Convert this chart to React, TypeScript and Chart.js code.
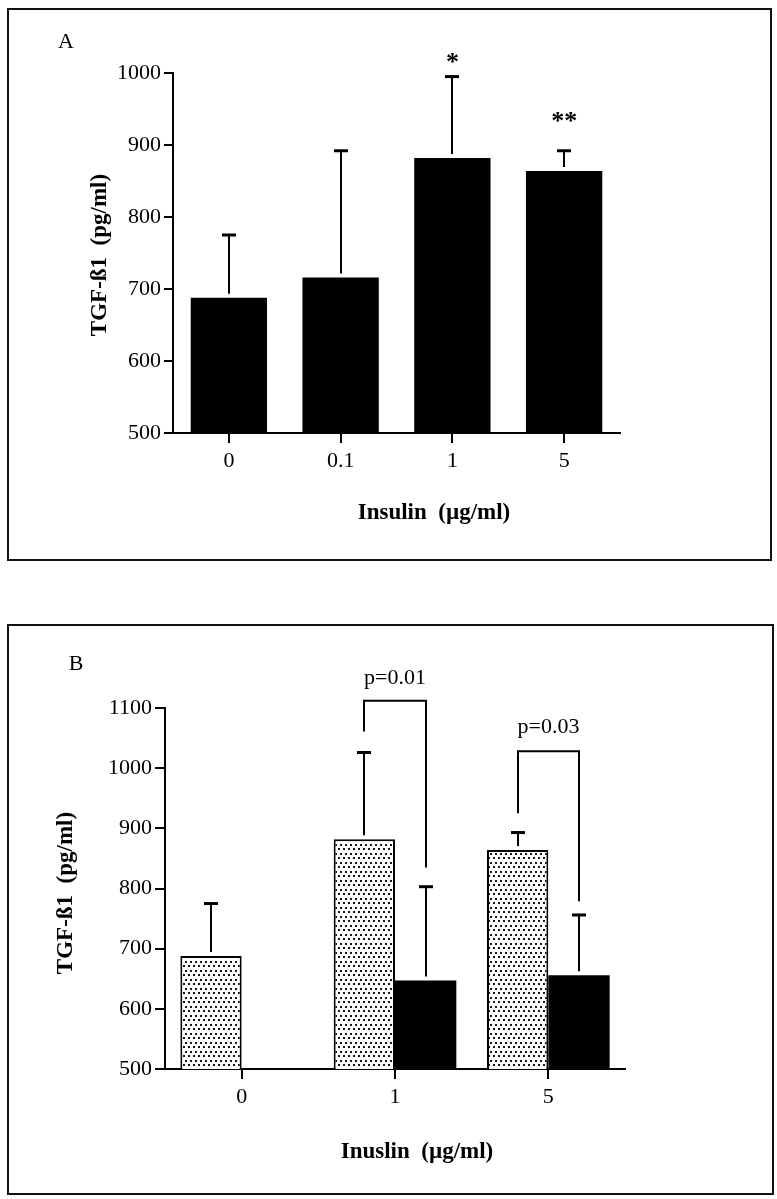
import React, { useEffect, useRef } from 'react';
import { Chart, registerables } from 'chart.js';

Chart.register(...registerables);

const FONT = '"Liberation Serif", "Times New Roman", serif';

// ---------- Panel A data ----------
const catsA = ['0', '0.1', '1', '5'];
const meanA = [688, 716, 882, 864];
const errA = [775, 892, 995, 892];
const sigTextA = ['', '', '*', '**'];
const sigYA: (number | null)[] = [null, null, 1004, 922];
const ticksA = [500, 600, 700, 800, 900, 1000];

// ---------- Panel B data ----------
const catsB = ['0', '1', '5'];
const meanB0: (number | null)[] = [688, 882, 864]; // dotted bars
const errB0: (number | null)[] = [775, 1026, 893];
const meanB1: (number | null)[] = [null, 647, 656]; // black bars
const errB1: (number | null)[] = [null, 803, 756];
const ticksB = [500, 600, 700, 800, 900, 1000, 1100];
const bracketCat = [1, 2];
const bracketLeftFrom = [1061, 925];
const bracketTop = [1112, 1028];
const bracketRightFrom = [835, 779];
const pText = ['p=0.01', 'p=0.03'];
const pTextY = [1140, 1059];

function makeDots(): CanvasPattern | string {
  const c = document.createElement('canvas');
  c.width = 5;
  c.height = 9;
  const x = c.getContext('2d');
  if (!x) return '#ccc';
  x.fillStyle = '#fff';
  x.fillRect(0, 0, 5, 9);
  x.fillStyle = '#151515';
  x.fillRect(0, 1, 2, 2);
  x.fillRect(3, 5, 2, 2);
  return x.createPattern(c, 'repeat') || '#ccc';
}

function errorBars(errs: (number | null)[][]) {
  return {
    id: 'errorBars',
    afterDatasetsDraw(chart: any) {
      const { ctx } = chart;
      const y = chart.scales.y;
      ctx.save();
      ctx.strokeStyle = '#000';
      chart.data.datasets.forEach((ds: any, di: number) => {
        const meta = chart.getDatasetMeta(di);
        meta.data.forEach((bar: any, i: number) => {
          const e = errs[di] ? errs[di][i] : null;
          const v = ds.data[i];
          if (e == null || v == null) return;
          const x = Math.round(bar.x);
          const yb = y.getPixelForValue(v) - 4;
          const yt = y.getPixelForValue(e);
          ctx.lineWidth = 2;
          ctx.beginPath();
          ctx.moveTo(x, yb);
          ctx.lineTo(x, yt);
          ctx.stroke();
          ctx.lineWidth = 3;
          ctx.beginPath();
          ctx.moveTo(x - 7, yt);
          ctx.lineTo(x + 7, yt);
          ctx.stroke();
        });
      });
      ctx.restore();
    },
  };
}

function axisOpts(ticks: number[] | null, tickLength: number, fit: (s: any) => void, extra: any = {}) {
  return {
    grid: {
      display: true,
      drawOnChartArea: false,
      drawTicks: true,
      tickLength,
      color: '#000',
      lineWidth: 2,
      offset: false,
    },
    border: { display: true, color: '#000', width: 2 },
    ticks: {
      color: '#000',
      font: { family: FONT, size: 22 },
      padding: 3,
      callback: function (this: any, v: any, i: number) {
        return ticks ? String(v) : this.getLabelForValue(v);
      },
    },
    afterFit: fit,
    ...(ticks
      ? {
          afterBuildTicks: (s: any) => {
            s.ticks = ticks.map((v) => ({ value: v }));
          },
        }
      : {}),
    ...extra,
  };
}

function ChartA() {
  const ref = useRef<HTMLCanvasElement>(null);
  useEffect(() => {
    if (!ref.current) return;
    const textPlugin = {
      id: 'textsA',
      afterDraw(chart: any) {
        const ctx = chart.ctx;
        const y = chart.scales.y;
        const meta = chart.getDatasetMeta(0);
        ctx.save();
        ctx.fillStyle = '#000';
        ctx.textAlign = 'center';
        ctx.textBaseline = 'middle';
        ctx.font = `22px ${FONT}`;
        ctx.fillText('A', 66, 42);
        ctx.font = `bold 26px ${FONT}`;
        ctx.textBaseline = 'alphabetic';
        sigTextA.forEach((t, i) => {
          const v = sigYA[i];
          if (!t || v == null) return;
          ctx.fillText(t, meta.data[i].x, y.getPixelForValue(v));
        });
        ctx.font = `bold 23px ${FONT}`;
        ctx.textBaseline = 'middle';
        ctx.fillText('Insulin  (µg/ml)', 434, 513);
        ctx.translate(100, 255);
        ctx.rotate(-Math.PI / 2);
        ctx.fillText('TGF-ß1  (pg/ml)', 0, 0);
        ctx.restore();
      },
    };
    const xt = { color: '#000', font: { family: FONT, size: 22 }, padding: 5 };
    const chart = new Chart(ref.current, {
      type: 'bar',
      data: {
        labels: catsA,
        datasets: [
          {
            data: meanA,
            backgroundColor: '#000',
            borderWidth: 0,
            barPercentage: 0.683,
            categoryPercentage: 1,
          },
        ],
      },
      options: {
        animation: false,
        responsive: false,
        maintainAspectRatio: false,
        events: [],
        layout: { padding: { left: 0, top: 73, right: 157, bottom: 47 } },
        plugins: { legend: { display: false }, tooltip: { enabled: false } },
        scales: {
          x: axisOpts(null, 10, (s: any) => {
            s.height = 100;
          }, { ticks: xt }),
          y: axisOpts(ticksA, 9, (s: any) => {
            s.width = 173;
          }, { min: 500, max: 1000 }),
        },
      } as any,
      plugins: [errorBars([errA]), textPlugin],
    });
    return () => chart.destroy();
  }, []);
  return <canvas ref={ref} width={777} height={580} style={{ position: 'absolute', left: 0, top: 0 }} />;
}

function ChartB() {
  const ref = useRef<HTMLCanvasElement>(null);
  useEffect(() => {
    if (!ref.current) return;
    const dots = makeDots();
    const annPlugin = {
      id: 'textsB',
      afterDraw(chart: any) {
        const ctx = chart.ctx;
        const y = chart.scales.y;
        const m0 = chart.getDatasetMeta(0);
        const m1 = chart.getDatasetMeta(1);
        ctx.save();
        ctx.strokeStyle = '#000';
        ctx.lineWidth = 2;
        ctx.fillStyle = '#000';
        ctx.textAlign = 'center';
        bracketCat.forEach((c, k) => {
          const xl = Math.round(m0.data[c].x);
          const xr = Math.round(m1.data[c].x);
          const yt = y.getPixelForValue(bracketTop[k]);
          ctx.beginPath();
          ctx.moveTo(xl, y.getPixelForValue(bracketLeftFrom[k]));
          ctx.lineTo(xl, yt);
          ctx.lineTo(xr, yt);
          ctx.lineTo(xr, y.getPixelForValue(bracketRightFrom[k]));
          ctx.stroke();
          ctx.font = `22px ${FONT}`;
          ctx.textBaseline = 'alphabetic';
          ctx.fillText(pText[k], (xl + xr) / 2, y.getPixelForValue(pTextY[k]));
        });
        ctx.textBaseline = 'middle';
        ctx.font = `22px ${FONT}`;
        ctx.fillText('B', 76, 64);
        ctx.font = `bold 23px ${FONT}`;
        ctx.fillText('Inuslin  (µg/ml)', 417, 552);
        ctx.translate(66, 293);
        ctx.rotate(-Math.PI / 2);
        ctx.fillText('TGF-ß1  (pg/ml)', 0, 0);
        ctx.restore();
      },
    };
    const xt = { color: '#000', font: { family: FONT, size: 22 }, padding: 5 };
    const chart = new Chart(ref.current, {
      type: 'bar',
      data: {
        labels: catsB,
        datasets: [
          {
            data: meanB0,
            backgroundColor: dots as any,
            borderColor: '#000',
            borderWidth: 2,
            barPercentage: 1,
            categoryPercentage: 0.8,
          },
          {
            data: meanB1,
            backgroundColor: '#000',
            borderWidth: 0,
            barPercentage: 1,
            categoryPercentage: 0.8,
          },
        ],
      },
      options: {
        animation: false,
        responsive: false,
        maintainAspectRatio: false,
        events: [],
        layout: { padding: { left: 0, top: 108, right: 152, bottom: 30 } },
        plugins: { legend: { display: false }, tooltip: { enabled: false } },
        scales: {
          x: axisOpts(null, 10, (s: any) => {
            s.height = 100;
          }, { ticks: xt }),
          y: axisOpts(ticksB, 10, (s: any) => {
            s.width = 165;
          }, { min: 500, max: 1100 }),
        },
      } as any,
      plugins: [errorBars([errB0, errB1]), annPlugin],
    });
    return () => chart.destroy();
  }, []);
  return <canvas ref={ref} width={777} height={599} style={{ position: 'absolute', left: 0, top: 600 }} />;
}

export default function App() {
  return (
    <div
      style={{
        position: 'absolute',
        left: 0,
        top: 0,
        width: 777,
        height: 1199,
        background: '#fff',
        overflow: 'hidden',
      }}
    >
      <div
        style={{
          position: 'absolute',
          left: 7,
          top: 8,
          width: 765,
          height: 553,
          border: '2px solid #111',
          boxSizing: 'border-box',
        }}
      />
      <div
        style={{
          position: 'absolute',
          left: 7,
          top: 624,
          width: 767,
          height: 571,
          border: '2px solid #111',
          boxSizing: 'border-box',
        }}
      />
      <ChartA />
      <ChartB />
    </div>
  );
}
